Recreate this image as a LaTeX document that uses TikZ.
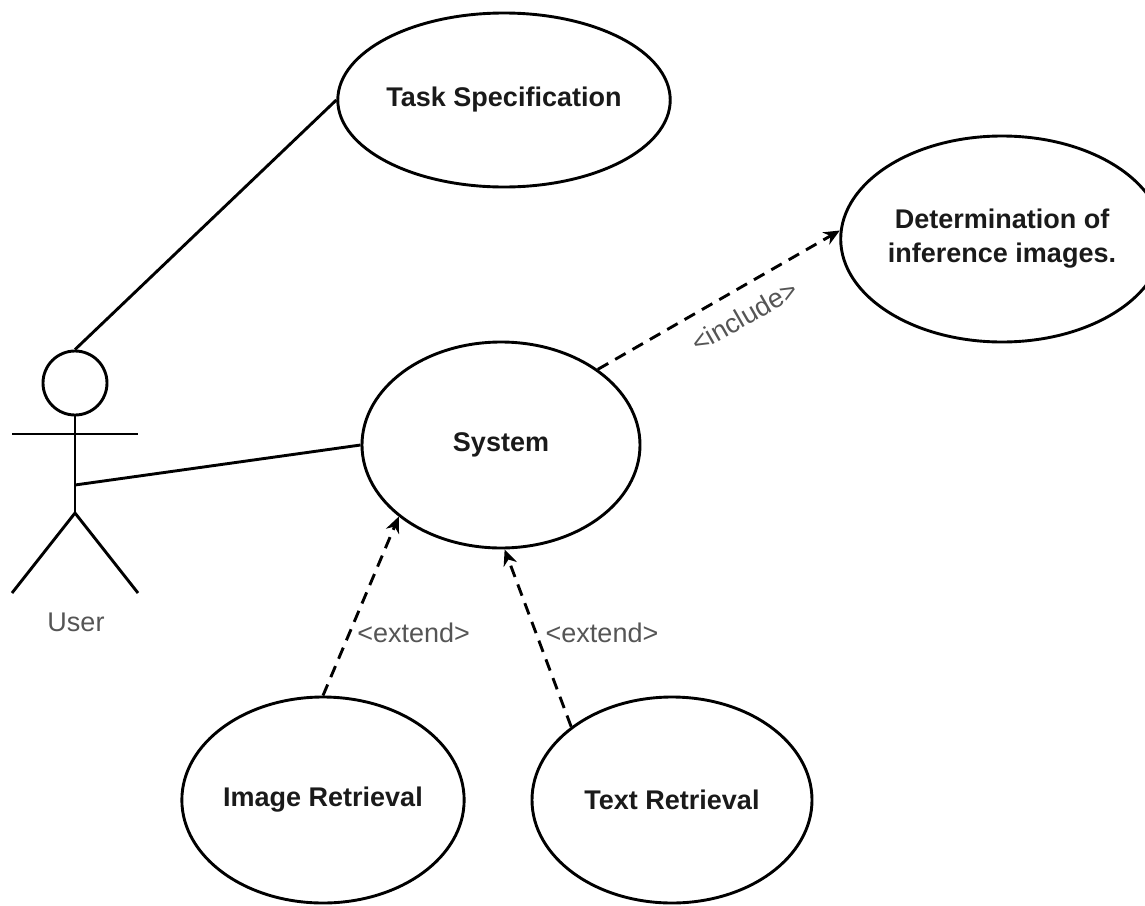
\documentclass[tikz,border=0pt]{standalone}
\usepackage{fontspec}
\setmainfont{Liberation Sans}
\usetikzlibrary{positioning,shapes.geometric,arrows.meta}
\definecolor{labelgray}{HTML}{555555}
\definecolor{textdark}{HTML}{1A1A1A}

\begin{document}
\begin{tikzpicture}[x=1pt,y=-1pt,line width=2.9pt,
  usecase/.style={draw,ellipse,inner sep=0pt,minimum width=280pt,minimum height=206pt,
    font=\fontsize{27}{34}\selectfont\bfseries,text=textdark,align=center},
  relation/.style={dash pattern=on 12pt off 8pt,-{Stealth[length=16pt,width=14pt]}},
  stereo/.style={font=\fontsize{27}{32}\selectfont,text=labelgray}]
  \useasboundingbox (0,0) rectangle (1145,905);
  \node[usecase,minimum width=283pt,minimum height=174pt] (task) at (504,100) {Task Specification};
  \node[usecase,minimum width=276pt] (determ) at (1002,239) {Determination of\\inference images.};
  \node[usecase,minimum width=278pt] (system) at (501,445) {System};
  \node[usecase] (imgret) at (323,800) {Image Retrieval};
  \node[usecase] (txtret) at (672,800) {Text Retrieval};

  \node[draw,circle,minimum size=64pt,inner sep=0pt] (head) at (75,383) {};
  \coordinate (hip) at (75,513);
  \coordinate (waist) at (75,485);
  \coordinate (lhand) at (12,434);
  \coordinate (rhand) at (138,434);
  \coordinate (lfoot) at (12,593);
  \coordinate (rfoot) at (138,593);
  \draw (head.south) -- (hip);
  \draw (lhand) -- (rhand);
  \draw (lfoot) -- (hip) -- (rfoot);
  \node[stereo] (user) at (76,622) {User};

  \draw (head.north) -- (task.west);
  \draw (waist) -- (system.west);
  \draw[relation] (system.38) -- node[stereo,sloped,below=12pt,pos=0.55] (inc) {<include>} (determ.177);
  \draw[relation] (imgret.north) -- node[stereo,pos=0.35,right=3pt] (ext1) {<extend>} (system.215);
  \draw[relation] (txtret.144) -- node[stereo,pos=0.53,right=5pt] (ext2) {<extend>} (system.272);
\end{tikzpicture}
\end{document}
